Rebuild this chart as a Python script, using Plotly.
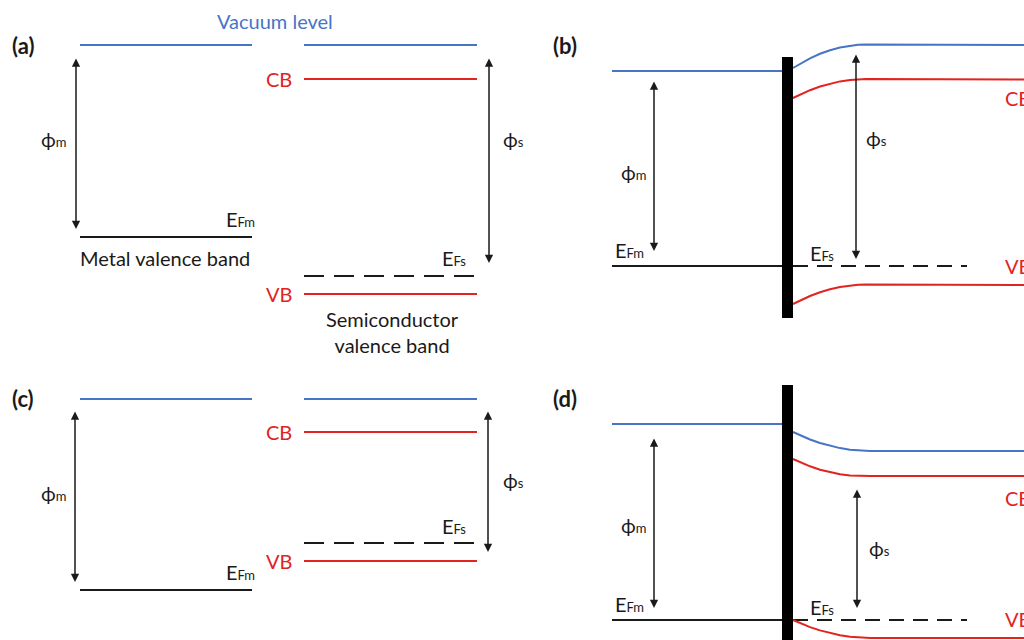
import plotly.graph_objects as go

# ---- Colours -------------------------------------------------------------
BLUE = "#4774C6"
RED = "#E2231F"
BLACK = "#1a1a1a"

# ---- Panels (a) and (c): isolated metal and semiconductor ---------------
METAL_X = [80, 252]
SEMI_X = [304, 477]
# energy levels (screen units, downward = lower energy)
A_VAC_METAL, A_VAC_SEMI, A_CB, A_EFM, A_EFS, A_VB = 45, 45, 79, 237, 276, 294
C_VAC_METAL, C_VAC_SEMI, C_CB, C_EFM, C_EFS, C_VB = 399, 399, 432, 590, 543, 561

# ---- Panels (b) and (d): contact with band bending ----------------------
METAL_X_BD = [612, 782]
BARRIER_X = [782, 793]
BARRIER_B = [57, 318]
BARRIER_D = [385, 640]
EFS_X_BD = [793, 967]

B_VAC_METAL, B_EF = 71, 266
D_VAC_METAL, D_EF = 424, 620

BEND_X_B = [793, 800, 810, 820, 830, 840, 850, 858, 866, 1024]
B_VAC = [68, 63.7, 58.3, 53.8, 50.2, 47.5, 45.6, 44.8, 44.5, 45]
B_CB = [98, 94.5, 90.2, 86.5, 83.6, 81.4, 79.9, 79.2, 79, 79.5]
B_VB = [304, 300.4, 296, 292.2, 289.2, 287, 285.4, 284.7, 284.5, 285]

BEND_X_D = [793, 800, 810, 820, 830, 840, 850, 860, 870, 1024]
D_VAC = [432, 435.3, 439.5, 443, 445.9, 448.1, 449.7, 450.7, 451, 451]
D_CB = [459, 462.3, 466.3, 469.7, 472.3, 474.3, 475.5, 476, 476, 476]
D_VB = [620, 623.1, 627.1, 630.4, 633.1, 635.3, 636.8, 637.7, 638, 638]

# work-function arrows: x, top, bottom
PHI_M_A = (76, 57, 229)
PHI_S_A = (489, 57, 263)
PHI_M_C = (75, 410, 582)
PHI_S_C = (488, 410, 552)
PHI_M_B = (654, 80, 251)
PHI_S_B = (856, 53, 259)
PHI_M_D = (654, 437, 608)
PHI_S_D = (857, 488, 608)

fig = go.Figure()


def seg(xs, ys, color, dash="solid", width=2):
    fig.add_trace(go.Scatter(x=xs, y=ys, mode="lines", hoverinfo="skip",
                             line=dict(color=color, width=width, dash=dash)))


# isolated panels
for vm, vs, cb, efm, efs, vb in [
    (A_VAC_METAL, A_VAC_SEMI, A_CB, A_EFM, A_EFS, A_VB),
    (C_VAC_METAL, C_VAC_SEMI, C_CB, C_EFM, C_EFS, C_VB),
]:
    seg(METAL_X, [vm, vm], BLUE)
    seg(SEMI_X, [vs, vs], BLUE)
    seg(SEMI_X, [cb, cb], RED)
    seg(METAL_X, [efm, efm], BLACK)
    seg(SEMI_X, [efs, efs], BLACK, dash="20px,10px")
    seg(SEMI_X, [vb, vb], RED)

# contact panels
for vm, ef, bx, vac, cb, vb in [
    (B_VAC_METAL, B_EF, BEND_X_B, B_VAC, B_CB, B_VB),
    (D_VAC_METAL, D_EF, BEND_X_D, D_VAC, D_CB, D_VB),
]:
    seg(METAL_X_BD, [vm, vm], BLUE)
    seg(METAL_X_BD, [ef, ef], BLACK)
    seg(EFS_X_BD, [ef, ef], BLACK, dash="15px,9px")
    seg(bx, vac, BLUE)
    seg(bx, cb, RED)
    seg(bx, vb, RED)

# metal/semiconductor interface
for yb in (BARRIER_B, BARRIER_D):
    fig.add_shape(type="rect", xref="x", yref="y",
                  x0=BARRIER_X[0], x1=BARRIER_X[1], y0=yb[0], y1=yb[1],
                  fillcolor="black", line=dict(width=0), layer="above")

# double-headed arrows
for x, top, bot in [PHI_M_A, PHI_S_A, PHI_M_C, PHI_S_C,
                    PHI_M_B, PHI_S_B, PHI_M_D, PHI_S_D]:
    fig.add_annotation(x=x, y=bot, ax=x, ay=top, xref="x", yref="y",
                       axref="x", ayref="y", text="", showarrow=True,
                       arrowhead=2, startarrowhead=2, arrowside="end+start",
                       arrowsize=1.1, startarrowsize=1.1, arrowwidth=1.5,
                       arrowcolor=BLACK, standoff=0, startstandoff=0)

FONT = "Lato, Noto Sans, sans-serif"


def label(x, y, text, anchor="left", color=BLACK, size=20, bold=False):
    if bold:
        text = "<b>" + text + "</b>"
    fig.add_annotation(x=x, y=y, xref="x", yref="y", text=text, showarrow=False,
                       xanchor=anchor, yanchor="middle",
                       font=dict(family=FONT, size=size, color=color))


def small(s):
    return "<span style='font-size:13px'>" + s + "</span>"


PHI_M = "\u03d5" + small("m")
PHI_S = "\u03d5" + small("s")
E_FM = "E" + small("Fm")
E_FS = "E" + small("Fs")

# panel (a)
label(10, 45, "(a)", bold=True, size=22)
label(275, 21, "Vacuum level", anchor="center", color=BLUE)
label(294, 79, "CB", anchor="right", color=RED)
label(294, 294, "VB", anchor="right", color=RED)
label(39, 139, PHI_M)
label(501, 139, PHI_S)
label(257, 219, E_FM, anchor="right")
label(468, 258, E_FS, anchor="right")
label(78, 258, "Metal valence band")
label(324, 332, "Semiconductor<br>valence band")

# panel (c)
label(10, 398, "(c)", bold=True, size=22)
label(294, 432, "CB", anchor="right", color=RED)
label(294, 561, "VB", anchor="right", color=RED)
label(39, 493, PHI_M)
label(501, 480, PHI_S)
label(257, 572, E_FM, anchor="right")
label(468, 526, E_FS, anchor="right")

# panel (b)
label(551, 45, "(b)", bold=True, size=22)
label(619, 172, PHI_M)
label(864, 138, PHI_S)
label(613, 250, E_FM)
label(808, 253, E_FS)
label(1003, 98, "CB", color=RED)
label(1003, 266, "VB", color=RED)

# panel (d)
label(551, 398, "(d)", bold=True, size=22)
label(619, 525, PHI_M)
label(867, 548, PHI_S)
label(613, 604, E_FM)
label(808, 607, E_FS)
label(1003, 498, "CB", color=RED)
label(1003, 619, "VB", color=RED)

fig.update_layout(
    width=1024, height=640,
    margin=dict(l=0, r=0, t=0, b=0),
    paper_bgcolor="white", plot_bgcolor="white",
    showlegend=False,
    xaxis=dict(range=[0, 1024], visible=False, fixedrange=True),
    yaxis=dict(range=[640, 0], visible=False, fixedrange=True),
)

fig.write_html("out.html")
